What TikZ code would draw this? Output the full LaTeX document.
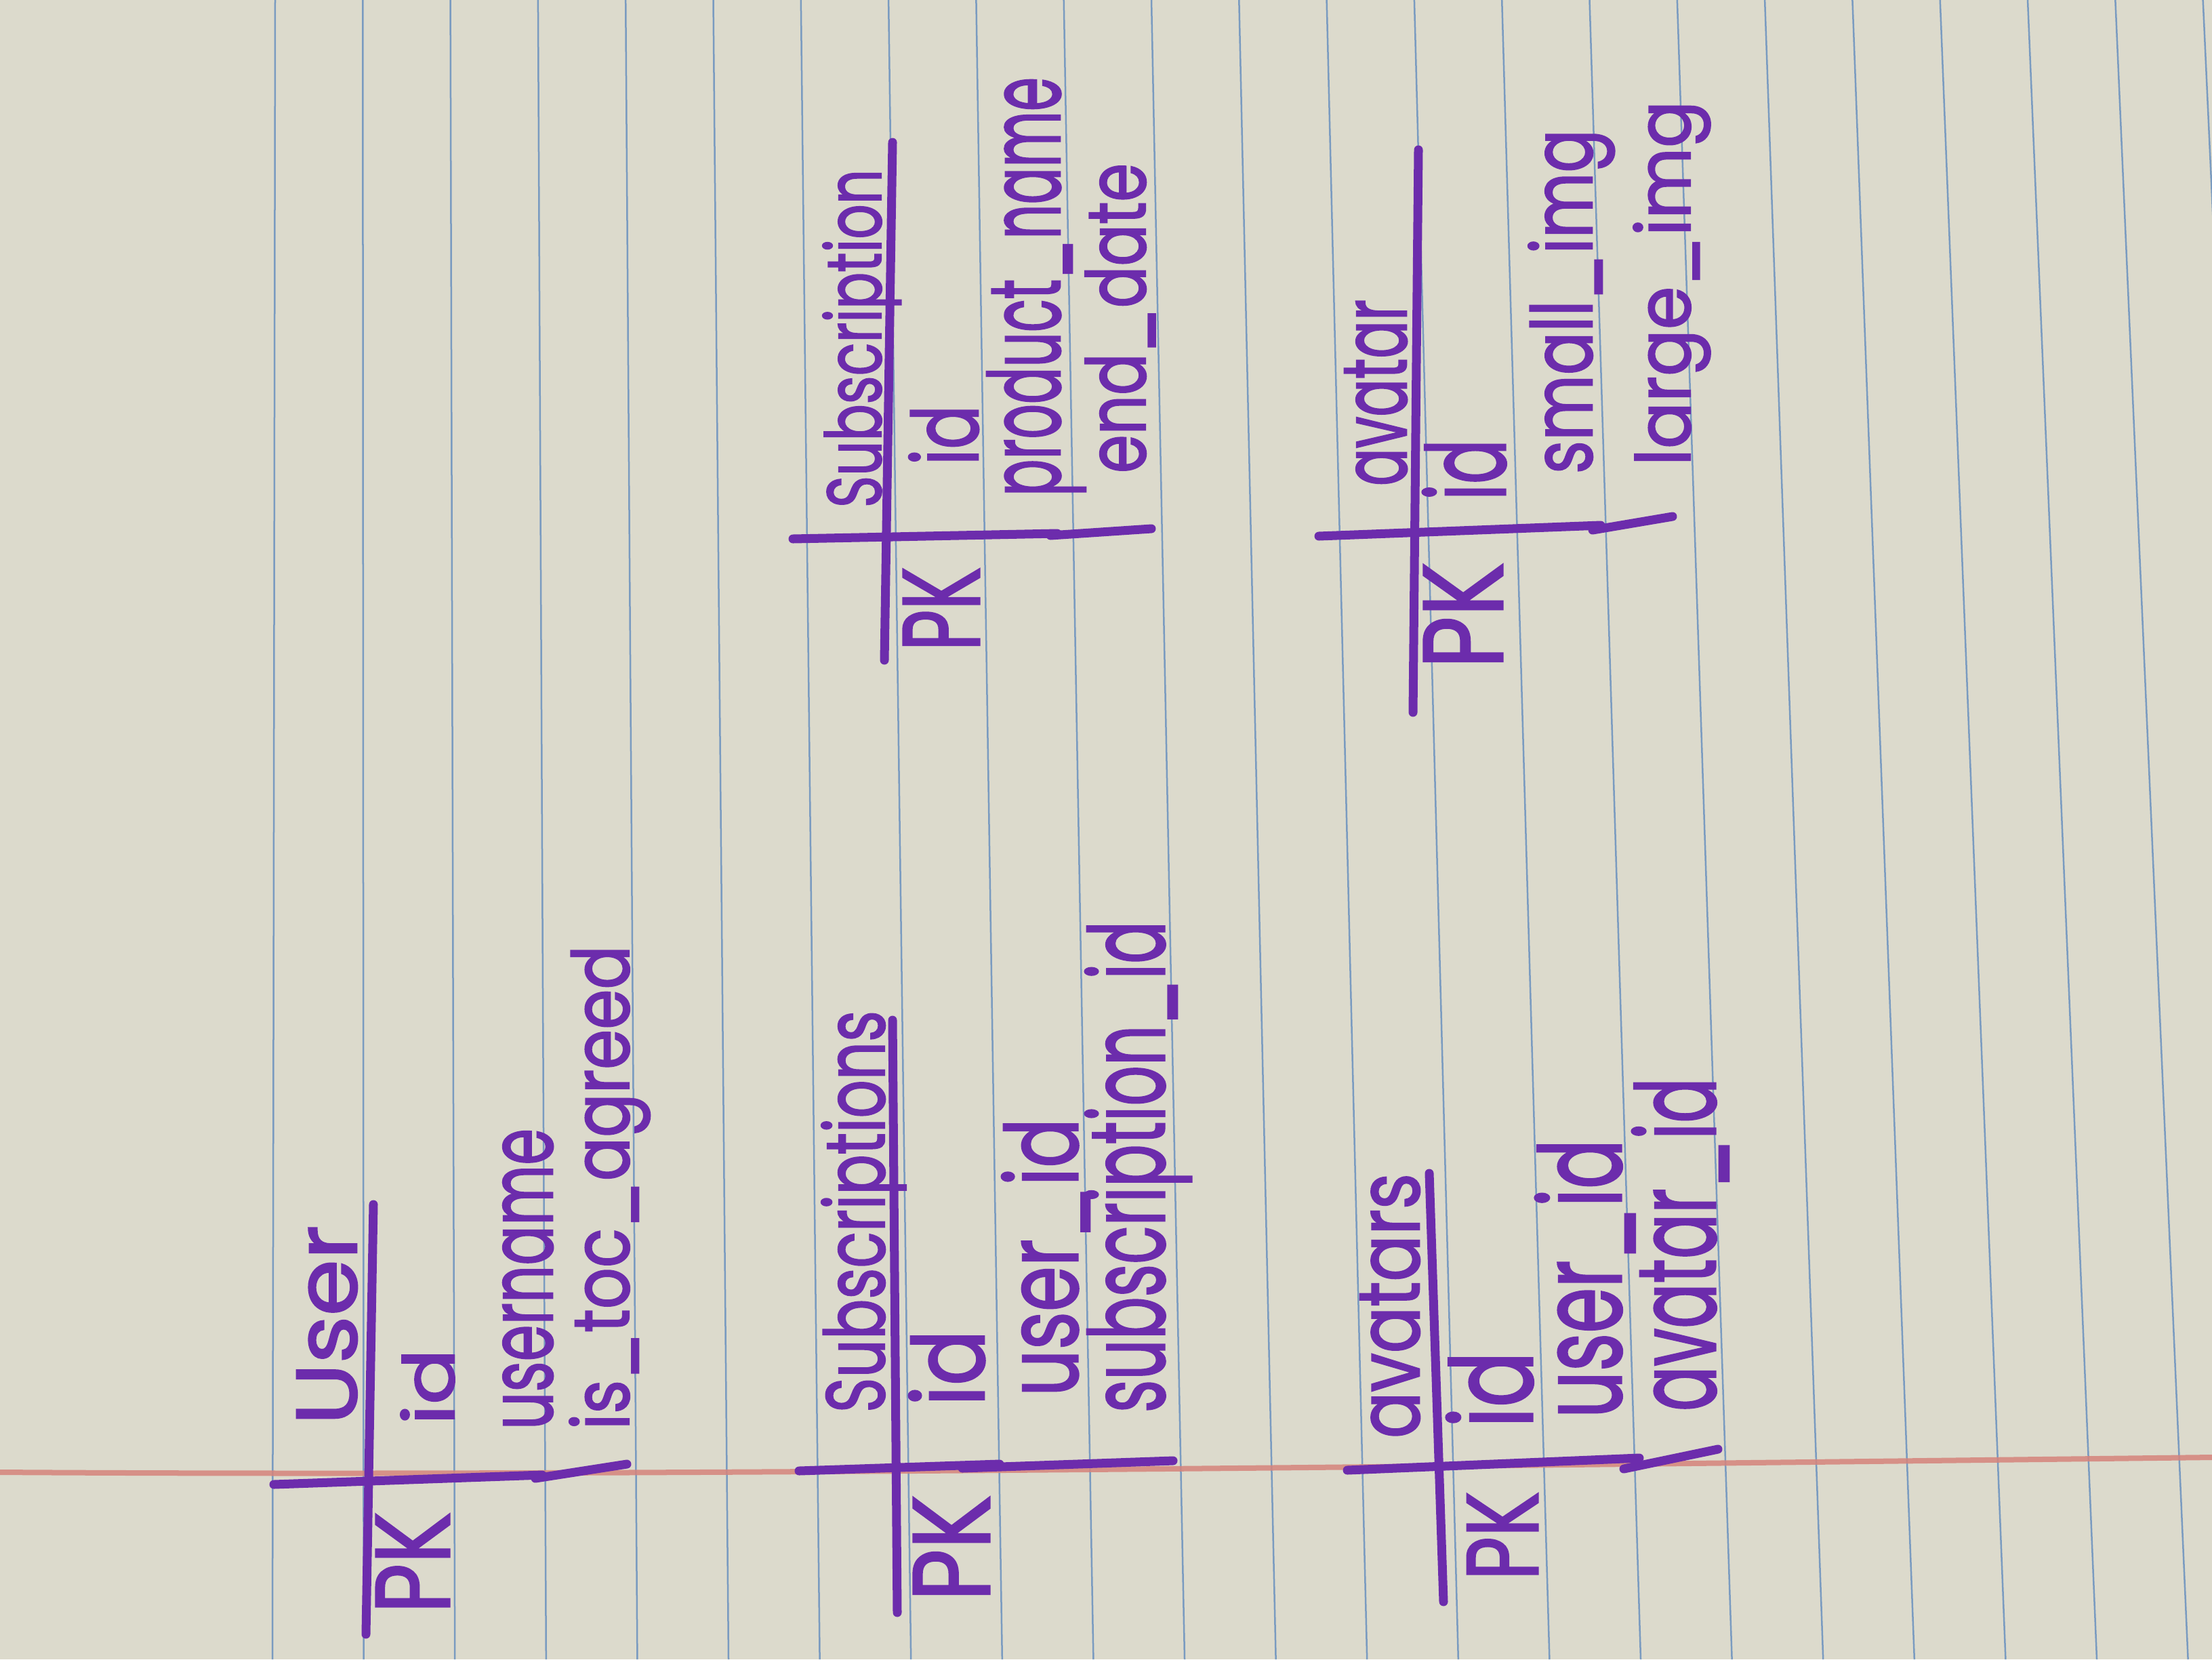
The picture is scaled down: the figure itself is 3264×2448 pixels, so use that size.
\documentclass[tikz,border=0pt]{standalone}
\usepackage{fontspec}
\usepackage{graphicx}
\setmainfont{Poppins}
\newfontfamily\handfont[FakeBold=2]{Poppins}
\definecolor{paper}{RGB}{220,218,204}
\definecolor{ink}{RGB}{108,44,172}
\definecolor{ruleblue}{RGB}{122,155,192}
\definecolor{marginred}{RGB}{214,132,124}
\newlength\pxu
\setlength\pxu{0.01cm}
\newcommand\hw[3]{\resizebox{#1\pxu}{#2\pxu}{\handfont #3}}
\begin{document}
\begin{tikzpicture}[x=0.01cm,y=-0.01cm,
  txt/.style={inner sep=0pt, outer sep=0pt, text=ink, rotate=90, anchor=base west},
  pen/.style={draw=ink, line width=0.13cm, line cap=round, line join=round},
  ruleline/.style={draw=ruleblue, line width=0.025cm},
  marginline/.style={draw=marginred, line width=0.08cm, opacity=0.85}]
\fill[paper] (0,0) rectangle (3264,2448);
\useasboundingbox (0,0) rectangle (3264,2448);
\clip (0,0) rectangle (3264,2448);
% ruled lines
\foreach \i in {0,...,22} {
  \draw[ruleline] ({406+129.3*\i},0) -- ({402+134.6*\i},2448);
}
% margin line
\draw[marginline] (0,2172) .. controls (900,2178) and (2000,2165) .. (3264,2150);

% ---------- User ----------
\draw[pen] (551,1777) -- (540,2411);
\draw[pen] (404,2190) -- (800,2176);
\draw[pen] (790,2181) -- (925,2160);
\node[txt] (user-t)   at (526,2102) {\hw{294}{88}{User}};
\node[txt] (user-pk)  at (663,2380) {\hw{149}{108}{PK}};
\node[txt] (user-id)  at (670,2102) {\hw{112}{79}{id}};
\node[txt] (user-un)  at (815,2109) {\hw{444}{73}{username}};
\node[txt] (user-toc) at (928,2109) {\hw{714}{88}{is\_toc\_agreed}};

% ---------- Subscriptions ----------
\draw[pen] (1317,1505) -- (1324,2379);
\draw[pen] (1179,2170) -- (1475,2160);
\draw[pen] (1420,2166) -- (1731,2155);
\node[txt] (subs-t)   at (1305,2084) {\hw{593}{93}{Subscriptions}};
\node[txt] (subs-pk)  at (1460,2362) {\hw{156}{112}{PK}};
\node[txt] (subs-id)  at (1452,2074) {\hw{112}{111}{id}};
\node[txt] (subs-uid) at (1590,2060) {\hw{410}{112}{user\_id}};
\node[txt] (subs-sid) at (1718,2084) {\hw{725}{117}{subscription\_id}};

% ---------- avatars ----------
\draw[pen] (2109,1731) -- (2130,2363);
\draw[pen] (1988,2169) -- (2419,2151);
\draw[pen] (2396,2167) -- (2535,2138);
\node[txt] (avs-t)   at (2094,2122) {\hw{391}{87}{avatars}};
\node[txt] (avs-pk)  at (2269,2331) {\hw{130}{104}{PK}};
\node[txt] (avs-id)  at (2261,2106) {\hw{112}{127}{id}};
\node[txt] (avs-uid) at (2392,2092) {\hw{411}{127}{user\_id}};
\node[txt] (avs-aid) at (2531,2082) {\hw{492}{123}{avatar\_id}};

% ---------- Subscription ----------
\draw[pen] (1317,210) -- (1305,974);
\draw[pen] (1170,795) -- (1560,787);
\draw[pen] (1550,790) -- (1699,780);
\node[txt] (sub-t)  at (1300,749) {\hw{499}{86}{Subscription}};
\node[txt] (sub-pk) at (1445,960) {\hw{123}{112}{PK}};
\node[txt] (sub-id) at (1443,686) {\hw{88}{102}{id}};
\node[txt] (sub-pn) at (1564,732) {\hw{618}{108}{product\_name}};
\node[txt] (sub-ed) at (1690,698) {\hw{457}{89}{end\_date}};

% ---------- avatar ----------
\draw[pen] (2093,221) -- (2085,1051);
\draw[pen] (1946,791) -- (2362,775);
\draw[pen] (2350,782) -- (2468,762);
\node[txt] (av-t)  at (2075,717) {\hw{275}{91}{avatar}};
\node[txt] (av-pk) at (2217,986) {\hw{156}{116}{PK}};
\node[txt] (av-id) at (2221,738) {\hw{90}{122}{id}};
\node[txt] (av-sm) at (2349,699) {\hw{508}{94}{small\_img}};
\node[txt] (av-lg) at (2494,687) {\hw{538}{84}{large\_img}};
\end{tikzpicture}
\end{document}
